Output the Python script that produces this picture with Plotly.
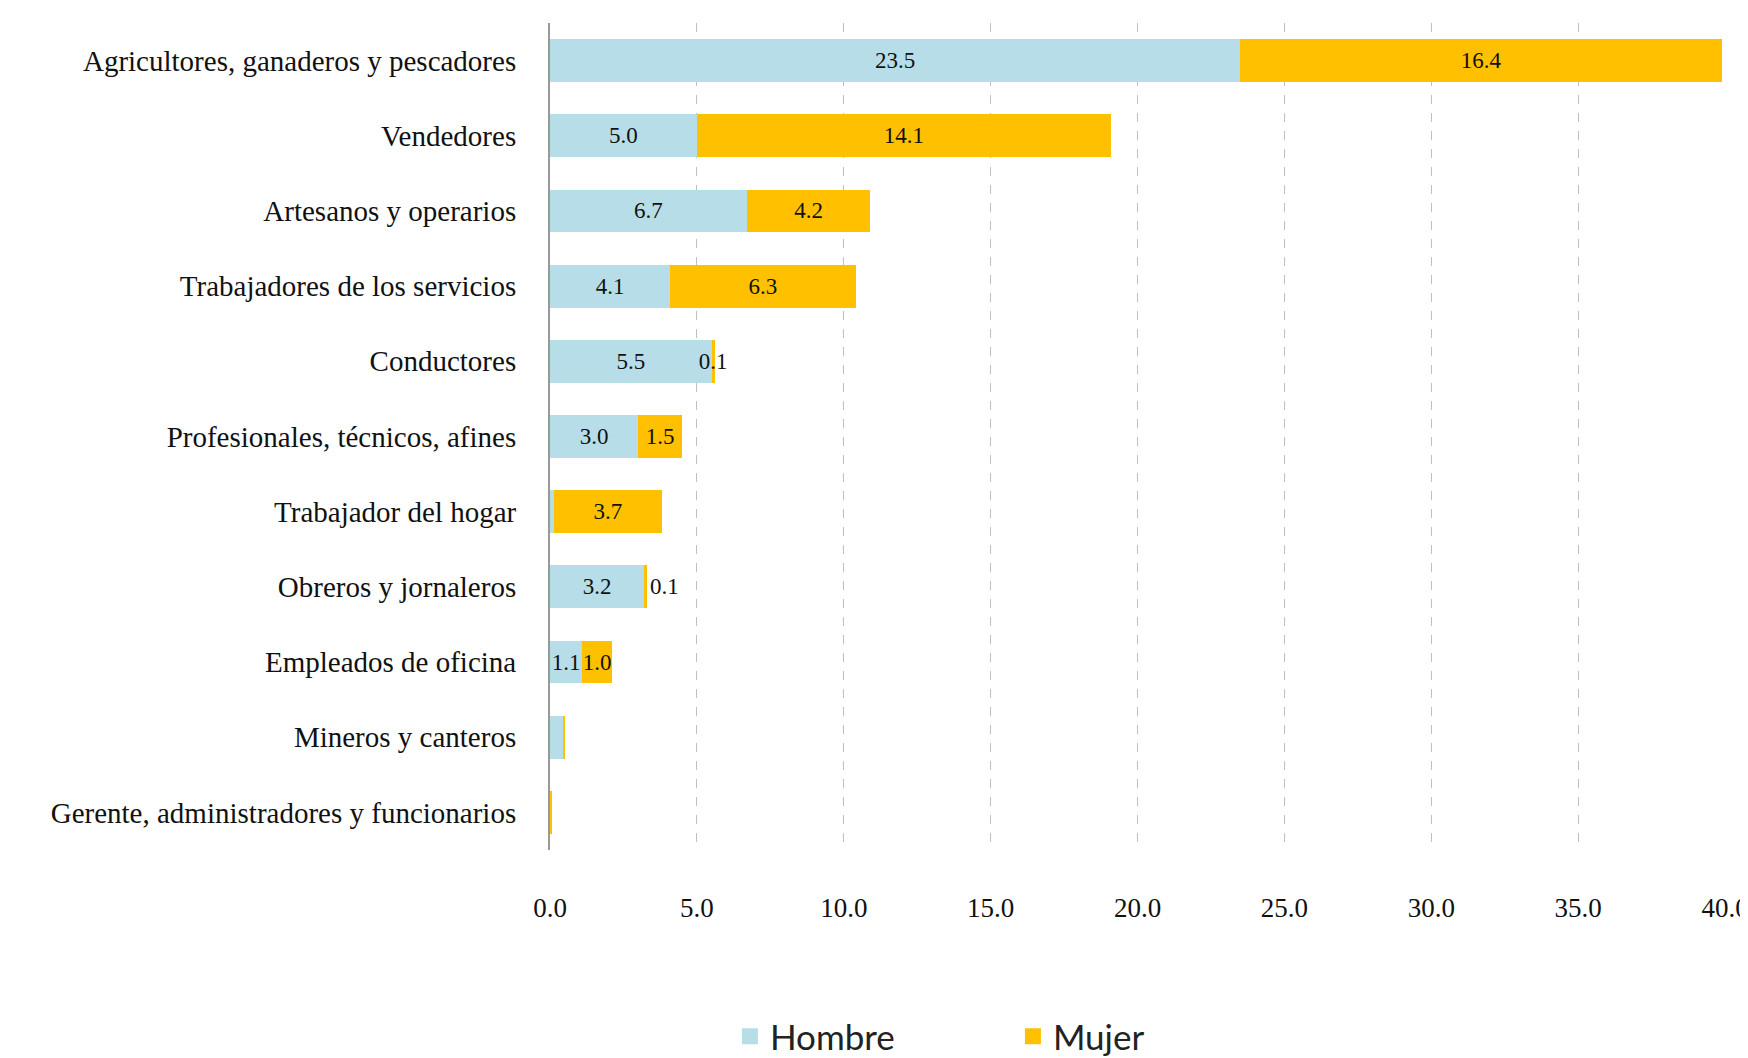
import plotly.graph_objects as go

categories = [
    "Agricultores, ganaderos y pescadores",
    "Vendedores",
    "Artesanos y operarios",
    "Trabajadores de los servicios",
    "Conductores",
    "Profesionales, técnicos, afines",
    "Trabajador del hogar",
    "Obreros y jornaleros",
    "Empleados de oficina",
    "Mineros y canteros",
    "Gerente, administradores y funcionarios",
]
hombre = [23.5, 5.0, 6.7, 4.1, 5.5, 3.0, 0.12, 3.2, 1.1, 0.45, 0.0]
mujer = [16.4, 14.1, 4.2, 6.3, 0.1, 1.5, 3.7, 0.1, 1.0, 0.05, 0.07]
hombre_show = [True, True, True, True, True, True, False, True, True, False, False]
mujer_show = [True, True, True, True, True, True, True, True, True, False, False]
mujer_pos = ["inside"] * 7 + ["outside"] + ["inside"] * 3
xticks = [0, 5, 10, 15, 20, 25, 30, 35, 40]
xtick_labels = [f"{v:.1f}" for v in xticks]

serif = "Liberation Serif"
c_hombre = "#B7DDE8"
c_mujer = "#FFC000"

fig = go.Figure()
fig.add_trace(go.Bar(
    y=categories, x=hombre, orientation="h", name="Hombre",
    marker=dict(color=c_hombre, line=dict(width=0)),
    text=[f"{v:.1f}" if s else "" for v, s in zip(hombre, hombre_show)],
    textposition="inside", insidetextanchor="middle", constraintext="none",
    textangle=0,
    textfont=dict(family=serif, size=23, color="#111111"),
    hoverinfo="x+y", showlegend=False,
))
fig.add_trace(go.Bar(
    y=categories, x=mujer, orientation="h", name="Mujer",
    marker=dict(color=c_mujer, line=dict(width=0)),
    text=[f"{v:.1f}" if s else "" for v, s in zip(mujer, mujer_show)],
    textposition=mujer_pos, insidetextanchor="middle", constraintext="none",
    textangle=0,
    textfont=dict(family=serif, size=23, color="#111111"),
    cliponaxis=False,
    hoverinfo="x+y", showlegend=False,
))
# legend entries with larger square swatches
for nm, col in [("Hombre", c_hombre), ("Mujer", c_mujer)]:
    fig.add_trace(go.Scatter(
        x=[None], y=[None], mode="markers", name=nm,
        marker=dict(symbol="square", size=20, color=col),
        hoverinfo="skip",
    ))

fig.update_layout(
    width=1748, height=1058,
    barmode="stack", bargap=0.43,
    plot_bgcolor="white", paper_bgcolor="white",
    margin=dict(l=542, r=31, t=15, b=216),
    font=dict(family=serif, size=29, color="#111111"),
    legend=dict(
        orientation="h", xref="container", x=0.413, xanchor="left",
        yref="container", y=0.0, yanchor="bottom",
        font=dict(family="Lato", size=35, color="#222222"),
        itemwidth=30, traceorder="normal", entrywidth=238,
        itemsizing="trace",
    ),
    xaxis=dict(
        range=[0, 40], tickvals=xticks, ticktext=xtick_labels,
        showgrid=True, gridcolor="#BFBFBF", griddash="dash", gridwidth=1,
        zeroline=False, showline=False, automargin=False,
        tickfont=dict(family=serif, size=27, color="#111111"),
        ticklabelstandoff=39, fixedrange=True,
    ),
    yaxis=dict(
        categoryorder="array", categoryarray=categories[::-1],
        showline=True, linecolor="#999999", linewidth=2,
        showgrid=False, ticks="", automargin=False,
        tickfont=dict(family=serif, size=29, color="#111111"),
        ticklabelstandoff=26,
    ),
    showlegend=True,
)

fig.write_html("out.html")
